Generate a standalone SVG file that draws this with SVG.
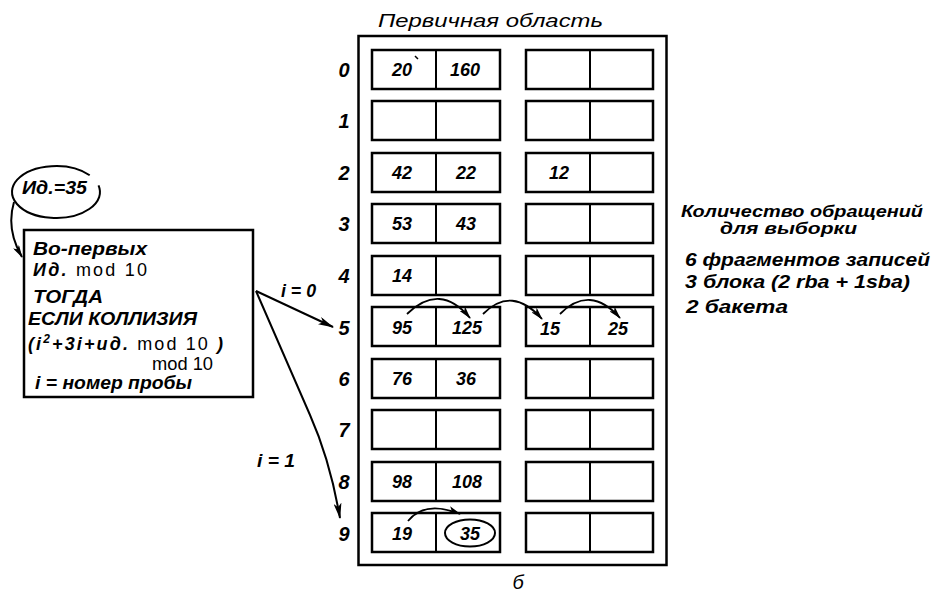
<svg xmlns="http://www.w3.org/2000/svg" width="934" height="595" viewBox="0 0 934 595">
  <style>
    .hand { font-family: "Liberation Sans", "DejaVu Sans", sans-serif; font-style: italic; font-weight: bold; fill: #000; }
    .plain { font-family: "Liberation Sans", "DejaVu Sans", sans-serif; font-style: normal; font-weight: normal; }
    .num { font-size: 18px; text-anchor: middle; }
    .lbl { font-size: 20px; text-anchor: middle; }
    .txt { font-size: 18px; }
    .note { font-size: 16px; }
    .box { fill: #fff; stroke: #000; stroke-width: 2.5; }
    .div { stroke: #000; stroke-width: 2; }
    .wire { fill: none; stroke: #000; stroke-width: 2; }
    .hop { fill: none; stroke: #000; stroke-width: 1.8; }
  </style>
  <defs>
    <marker id="arrow" viewBox="0 0 16 8" refX="15" refY="4" markerWidth="16" markerHeight="8" markerUnits="userSpaceOnUse" orient="auto">
      <path d="M0,0 L16,4 L0,8 L4,4 z" fill="#000"/>
    </marker>
    <marker id="arrowSmall" viewBox="0 0 13 7" refX="12" refY="3.5" markerWidth="13" markerHeight="7" markerUnits="userSpaceOnUse" orient="auto">
      <path d="M0,0 L13,3.5 L0,7 L3,3.5 z" fill="#000"/>
    </marker>
    <!-- one bucket row: two blocks of two slots -->
    <g id="bucket">
      <rect class="box" x="372" y="0" width="128" height="39"/>
      <line class="div" x1="436" y1="0" x2="436" y2="39"/>
      <rect class="box" x="526" y="0" width="127" height="39"/>
      <line class="div" x1="590" y1="0" x2="590" y2="39"/>
    </g>
  </defs>

  <rect width="934" height="595" fill="#fff"/>

  <!-- primary area -->
  <g id="primary-area">
    <text class="hand" x="378" y="27" font-size="18" textLength="225" lengthAdjust="spacingAndGlyphs" style="font-weight:normal">Первичная область</text>
    <rect x="358.5" y="36" width="308" height="529" fill="none" stroke="#000" stroke-width="2.5"/>
    <text class="hand" x="518" y="589" font-size="20" text-anchor="middle" style="font-weight:normal">б</text>
  </g>

  <g id="row-0" transform="translate(0,50)">
    <use href="#bucket"/>
    <text class="hand lbl" x="344" y="27">0</text>
    <text class="hand num" x="402" y="26">20</text>
    <line x1="415" y1="6" x2="418" y2="9" stroke="#000" stroke-width="1.5"/>
    <text class="hand num" x="465" y="26">160</text>
  </g>
  <g id="row-1" transform="translate(0,101)">
    <use href="#bucket"/>
    <text class="hand lbl" x="344" y="27">1</text>
  </g>
  <g id="row-2" transform="translate(0,153)">
    <use href="#bucket"/>
    <text class="hand lbl" x="344" y="27">2</text>
    <text class="hand num" x="402" y="26">42</text>
    <text class="hand num" x="466" y="26">22</text>
    <text class="hand num" x="559" y="26">12</text>
  </g>
  <g id="row-3" transform="translate(0,204)">
    <use href="#bucket"/>
    <text class="hand lbl" x="344" y="27">3</text>
    <text class="hand num" x="402" y="26">53</text>
    <text class="hand num" x="466" y="26">43</text>
  </g>
  <g id="row-4" transform="translate(0,256)">
    <use href="#bucket"/>
    <text class="hand lbl" x="344" y="27">4</text>
    <text class="hand num" x="402" y="26">14</text>
  </g>
  <g id="row-5" transform="translate(0,307)">
    <use href="#bucket"/>
    <text class="hand lbl" x="344" y="28">5</text>
    <text class="hand num" x="402" y="27">95</text>
    <text class="hand num" x="467" y="27">125</text>
    <text class="hand num" x="550" y="28">15</text>
    <text class="hand num" x="618" y="28">25</text>
  </g>
  <g id="row-6" transform="translate(0,359)">
    <use href="#bucket"/>
    <text class="hand lbl" x="344" y="27">6</text>
    <text class="hand num" x="402" y="26">76</text>
    <text class="hand num" x="466" y="26">36</text>
  </g>
  <g id="row-7" transform="translate(0,410)">
    <use href="#bucket"/>
    <text class="hand lbl" x="344" y="27">7</text>
  </g>
  <g id="row-8" transform="translate(0,462)">
    <use href="#bucket"/>
    <text class="hand lbl" x="344" y="27">8</text>
    <text class="hand num" x="402" y="26">98</text>
    <text class="hand num" x="467" y="26">108</text>
  </g>
  <g id="row-9" transform="translate(0,513)">
    <use href="#bucket"/>
    <text class="hand lbl" x="344" y="28">9</text>
    <text class="hand num" x="402" y="27">19</text>
    <ellipse cx="470" cy="20" rx="25" ry="13.5" fill="none" stroke="#000" stroke-width="2"/>
    <text class="hand num" x="470" y="27">35</text>
  </g>

  <!-- key to be placed -->
  <g id="key">
    <path d="M98.5,185.3 A44,26 0 1 1 89.7,175.3" fill="none" stroke="#000" stroke-width="2"/>
    <text class="hand txt" x="22" y="194" textLength="65" lengthAdjust="spacingAndGlyphs">Ид.=35</text>
  </g>

  <!-- hashing rule -->
  <g id="hash-rule">
    <rect x="24" y="230" width="229" height="167" fill="#fff" stroke="#000" stroke-width="2.5"/>
    <text class="hand txt" x="33" y="255" textLength="114" lengthAdjust="spacingAndGlyphs">Во-первых</text>
    <text class="hand txt" x="33" y="276" textLength="114" lengthAdjust="spacing">Ид. <tspan class="plain">mod 10</tspan></text>
    <text class="hand txt" x="33" y="303" textLength="70" lengthAdjust="spacingAndGlyphs">ТОГДА</text>
    <text class="hand txt" x="28" y="325" textLength="169" lengthAdjust="spacingAndGlyphs">ЕСЛИ КОЛЛИЗИЯ</text>
    <text class="hand txt" x="28" y="350" textLength="195" lengthAdjust="spacing">(i<tspan dy="-7" font-size="12">2</tspan><tspan dy="7">+3i+ид. </tspan><tspan class="plain">mod 10</tspan> )</text>
    <text class="plain" x="152" y="370" font-size="18" textLength="61" lengthAdjust="spacingAndGlyphs">mod 10</text>
    <text class="hand txt" x="35" y="389" textLength="157" lengthAdjust="spacingAndGlyphs">i = номер пробы</text>
  </g>

  <!-- access count note -->
  <g id="access-note">
    <text class="hand note" x="681" y="217" textLength="242" lengthAdjust="spacingAndGlyphs">Количество обращений</text>
    <text class="hand note" x="720" y="234" textLength="137" lengthAdjust="spacingAndGlyphs">для выборки</text>
    <text class="hand txt" x="685" y="266" textLength="245" lengthAdjust="spacingAndGlyphs">6 фрагментов записей</text>
    <text class="hand txt" x="685" y="288" textLength="225" lengthAdjust="spacingAndGlyphs">3 блока (2 rba + 1sba)</text>
    <text class="hand txt" x="686" y="313" textLength="102" lengthAdjust="spacingAndGlyphs">2 бакета</text>
  </g>

  <g id="connectors">
    <path class="wire" d="M14,202 C8,222 12,240 22,257" marker-end="url(#arrowSmall)"/>
    <path class="wire" d="M256,291 L333,327" marker-end="url(#arrow)"/>
    <text class="hand txt" x="281" y="297" textLength="35" lengthAdjust="spacingAndGlyphs">i = 0</text>
    <path class="wire" d="M256,291 L310,415 Q330,460 340,518" marker-end="url(#arrow)"/>
    <text class="hand txt" x="257" y="467" textLength="38" lengthAdjust="spacingAndGlyphs">i = 1</text>
    <!-- overflow hops inside bucket 5 -->
    <path class="hop" d="M407,314 Q440,282 470,318" marker-end="url(#arrowSmall)"/>
    <path class="hop" d="M483,314 Q512,285 542,319" marker-end="url(#arrowSmall)"/>
    <path class="hop" d="M560,314 Q590,284 620,318" marker-end="url(#arrowSmall)"/>
    <!-- overflow hop inside bucket 9 -->
    <path class="hop" d="M408,521 Q425,500 460,514" marker-end="url(#arrowSmall)"/>
  </g>
</svg>
